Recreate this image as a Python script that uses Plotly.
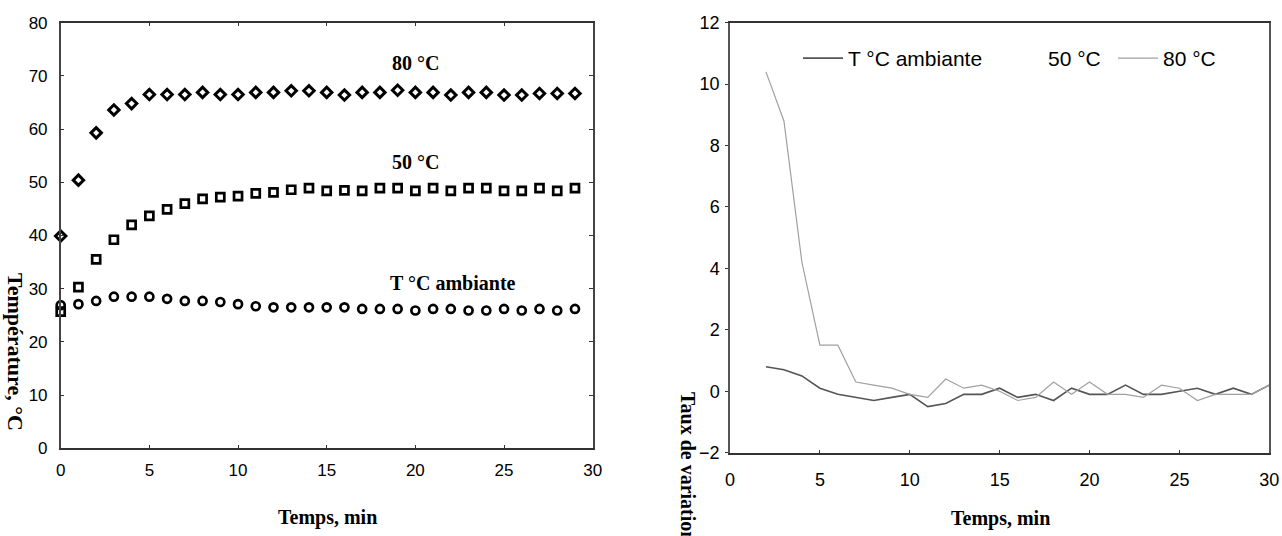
import plotly.graph_objects as go

# ---------------- data ----------------
time_left = list(range(0, 30))
temp_80 = [39.9, 50.4, 59.3, 63.6, 64.8, 66.5, 66.5, 66.5, 66.9, 66.5,
           66.5, 66.9, 66.9, 67.2, 67.2, 66.9, 66.4, 66.9, 66.9, 67.3,
           66.9, 66.9, 66.4, 66.9, 66.9, 66.4, 66.4, 66.7, 66.7, 66.7]
temp_50 = [25.7, 30.3, 35.5, 39.2, 42.0, 43.7, 44.9, 46.0, 46.9, 47.2,
           47.4, 47.9, 48.1, 48.6, 48.9, 48.4, 48.5, 48.4, 48.9, 48.9,
           48.4, 48.9, 48.4, 48.9, 48.9, 48.4, 48.4, 48.9, 48.4, 48.9]
temp_amb = [26.9, 27.1, 27.7, 28.5, 28.5, 28.5, 28.1, 27.7, 27.7, 27.5,
            27.1, 26.7, 26.5, 26.5, 26.5, 26.5, 26.5, 26.2, 26.2, 26.2,
            25.9, 26.2, 26.2, 25.9, 25.9, 26.2, 25.9, 26.2, 25.9, 26.2]

time_right = list(range(2, 31))
rate_amb = [0.8, 0.7, 0.5, 0.1, -0.1, -0.2, -0.3, -0.2, -0.1, -0.5,
            -0.4, -0.1, -0.1, 0.1, -0.2, -0.1, -0.3, 0.1, -0.1, -0.1,
            0.2, -0.1, -0.1, 0.0, 0.1, -0.1, 0.1, -0.1, 0.2]
rate_80 = [10.4, 8.8, 4.2, 1.5, 1.5, 0.3, 0.2, 0.1, -0.1, -0.2,
           0.4, 0.1, 0.2, 0.0, -0.3, -0.2, 0.3, -0.1, 0.3, -0.1,
           -0.1, -0.2, 0.2, 0.1, -0.3, -0.1, -0.1, -0.1, 0.2]

left_x_ticks = [0, 5, 10, 15, 20, 25, 30]
left_y_ticks = [0, 10, 20, 30, 40, 50, 60, 70, 80]
right_y_ticks = [-2, 0, 2, 4, 6, 8, 10, 12]

W, H = 1282, 536
SANS = "Liberation Sans, Arial, sans-serif"
SERIF = "Liberation Serif, Times New Roman, serif"

fig = go.Figure()

# left chart markers
fig.add_trace(go.Scatter(x=time_left, y=temp_80, mode="markers", showlegend=False,
                         marker=dict(symbol="diamond-open", size=8, color="black",
                                     line=dict(width=3, color="black")),
                         xaxis="x", yaxis="y", cliponaxis=False))
fig.add_trace(go.Scatter(x=time_left, y=temp_50, mode="markers", showlegend=False,
                         marker=dict(symbol="square-open", size=8, color="black",
                                     line=dict(width=2.7, color="black")),
                         xaxis="x", yaxis="y", cliponaxis=False))
fig.add_trace(go.Scatter(x=time_left, y=temp_amb, mode="markers", showlegend=False,
                         marker=dict(symbol="circle-open", size=8, color="black",
                                     line=dict(width=2.7, color="black")),
                         xaxis="x", yaxis="y", cliponaxis=False))

# right chart lines
fig.add_trace(go.Scatter(x=time_right, y=rate_amb, mode="lines", name="T °C ambiante",
                         line=dict(color="#555555", width=1.6), legend="legend",
                         xaxis="x2", yaxis="y2"))
fig.add_trace(go.Scatter(x=[None], y=[None], mode="lines", name="50 °C",
                         line=dict(color="rgba(255,255,255,0)", width=1), legend="legend2",
                         xaxis="x2", yaxis="y2"))
fig.add_trace(go.Scatter(x=time_right, y=rate_80, mode="lines", name="80 °C",
                         line=dict(color="#a0a0a0", width=1.2), legend="legend3",
                         xaxis="x2", yaxis="y2"))

def px_x(p):
    return p / W

def px_y(p):
    return 1 - p / H

tickfont_l = dict(family=SANS, size=17, color="black")
tickfont_r = dict(family=SANS, size=18, color="black")

leg_common = dict(orientation="h", xanchor="left", yanchor="top",
                  bgcolor="rgba(0,0,0,0)", font=dict(family=SANS, size=21, color="black"),
                  itemwidth=40)

fig.update_layout(
    width=W, height=H,
    margin=dict(l=0, r=0, t=0, b=0),
    paper_bgcolor="white", plot_bgcolor="white",
    xaxis=dict(domain=[px_x(60.7), px_x(592.7)], range=[0, 30], tickvals=left_x_ticks,
               ticks="inside", ticklen=4, tickcolor="#333", mirror="ticks",
               showline=True, linecolor="#333", linewidth=1.5, showgrid=False,
               zeroline=False, tickfont=tickfont_l, automargin=False,
               ticklabelstandoff=6, anchor="y"),
    yaxis=dict(domain=[px_y(448.3), px_y(22.7)], range=[0, 80], tickvals=left_y_ticks,
               ticks="inside", ticklen=4, tickcolor="#333", mirror="ticks",
               showline=True, linecolor="#444", linewidth=1.5, showgrid=False,
               zeroline=False, tickfont=tickfont_l, automargin=False,
               ticklabelstandoff=8, anchor="x"),
    xaxis2=dict(domain=[px_x(730), px_x(1269.3)], range=[0, 30], tickvals=left_x_ticks,
                ticks="inside", ticklen=3, tickcolor="#333", mirror=True,
                showline=True, linecolor="#333", linewidth=1.5, showgrid=False,
                zeroline=False, tickfont=tickfont_r, automargin=False,
                ticklabelstandoff=10, anchor="y2"),
    yaxis2=dict(domain=[px_y(452.7), px_y(22.7)], range=[-2, 12], tickvals=right_y_ticks,
                ticks="outside", ticklen=3, tickcolor="#333", mirror=True,
                showline=True, linecolor="#555", linewidth=1.5, showgrid=False,
                zeroline=False, tickfont=tickfont_r, automargin=False,
                ticklabelstandoff=2, anchor="x2"),
    legend=dict(x=px_x(798), y=px_y(38), **leg_common),
    legend2=dict(x=px_x(998), y=px_y(38), **leg_common),
    legend3=dict(x=px_x(1113), y=px_y(38), **leg_common),
    showlegend=True,
)

ann_font = dict(family=SERIF, size=20, color="black")
fig.add_annotation(x=20.0, y=72.4, xref="x", yref="y", text="<b>80 °C</b>",
                   xanchor="center", yanchor="middle", showarrow=False, font=ann_font)
fig.add_annotation(x=20.0, y=53.8, xref="x", yref="y", text="<b>50 °C</b>",
                   xanchor="center", yanchor="middle", showarrow=False, font=ann_font)
fig.add_annotation(x=22.1, y=31.1, xref="x", yref="y", text="<b>T °C ambiante</b>",
                   xanchor="center", yanchor="middle", showarrow=False, font=ann_font)

title_font = dict(family=SERIF, size=20, color="black")
fig.add_annotation(x=px_x(327), y=px_y(517), xref="paper", yref="paper",
                   xanchor="center", yanchor="middle",
                   text="<b>Temps, min</b>", showarrow=False, font=title_font)
fig.add_annotation(x=px_x(1000), y=px_y(518), xref="paper", yref="paper",
                   xanchor="center", yanchor="middle",
                   text="<b>Temps, min</b>", showarrow=False, font=title_font)
fig.add_annotation(x=px_x(16), y=px_y(352), xref="paper", yref="paper",
                   xanchor="center", yanchor="middle",
                   text="<b>Température, °C</b>", textangle=90, showarrow=False,
                   font=dict(family=SERIF, size=22, color="black"))
fig.add_annotation(x=px_x(688), y=px_y(390), xref="paper", yref="paper",
                   xanchor="center", yanchor="top",
                   text="<b>Taux de variation, °C/min</b>", textangle=90, showarrow=False,
                   font=dict(family=SERIF, size=20, color="black"))

fig.write_html("out.html", config={"displayModeBar": False},
               post_script="document.body.style.margin='0';document.body.style.overflow='hidden';")
